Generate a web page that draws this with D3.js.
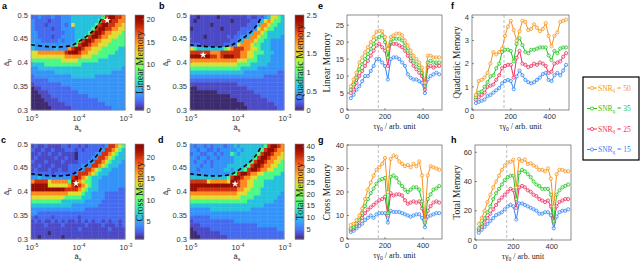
<!DOCTYPE html>
<html>
<head>
<meta charset="utf-8">
<script src="https://cdn.jsdelivr.net/npm/d3@7"></script>
<style>
  body { margin: 0; background: #fff; }
  svg { display: block; }
  text { font-family: "Liberation Sans", Arial, sans-serif; }
  .serif { font-family: "Liberation Serif", "Times New Roman", serif; }
</style>
</head>
<body>
<svg id="fig" width="640" height="263"></svg>
<script>
// ---- heatmap levels (0..9, see levelT), rows from a_p = 0.5 down to 0.3,
// columns from a_s = 1e-5 to 1e-3 (log)
const linearMap = [
  "2232223223334444444445899887",
  "3222212223334444444458998877",
  "3222122223236444444589988776",
  "3222221223333444445899887766",
  "3322222222333444458998776665",
  "3322221223333444589987766655",
  "3332222232333458998776665555",
  "4333333333334589987766655555",
  "4333333433378998776665555544",
  "6677777777899987766655555444",
  "6666666666777776665555544444",
  "5555555556666655555544444444",
  "4444555555555554444444444444",
  "3344444444444444444444444443",
  "3333333444444444444444443333",
  "2333333333334444444333333333",
  "2222233333333333333333333333",
  "1222222223333333333333333333",
  "0112222222223333333333333333",
  "0011122222222233333333333333",
  "0001112222222222233333333333",
  "0000111122222222222233333333",
  "0000011111222222222222333333",
  "0000001111112222222222223333"
];
const quadraticMap = [
  "1101111101111111121122346654",
  "1011111111110111112224676554",
  "1111110111111111122247765544",
  "0111111110111112222367655444",
  "1111111111111122234776544444",
  "1111011111121223347765544443",
  "1111111111112234777655443333",
  "2221111111222367776554443333",
  "6544444444567888776654443333",
  "8888887778888887766555444333",
  "9999998878999887766544443333",
  "7777777777777766655544443333",
  "6666666666666655554444433333",
  "5555555555555554444433333333",
  "4444444444444444333333333322",
  "3333333333333333333333222222",
  "2222222222222222222222222222",
  "1111111111111122222222222222",
  "0011111111111111122222222222",
  "0000000011111111111222222222",
  "0000000000001111111112222222",
  "0000000000000011111111122222",
  "0000000000000000111111111222",
  "0000000000000000011111111122"
];
const crossMap = [
  "1211211112212212122222388765",
  "2112112111222121222223887654",
  "1121121121111022222338876544",
  "1211111211211022223388765444",
  "2111211112111122233887654443",
  "1121112111122223338876544433",
  "1211121121122233887654443333",
  "2222221222222388876544433333",
  "3343333333338987654443333333",
  "7888867777759876554433333333",
  "9999966666678987654433333333",
  "9999999999888876544433333322",
  "7777777777766665443333222222",
  "6666666666555554443333222222",
  "5555555554444444333332222222",
  "4444444444443333333322222222",
  "3333333333333333222222222222",
  "3322222222222222222222222222",
  "2122221222222212222222222222",
  "1212112121211212121221212212",
  "1111211112111111211112111212",
  "1111111111111121111111121111",
  "1111101111111111111111111111",
  "1101111110111111111111111111"
];
const totalMap = [
  "3233232333233434444444589987",
  "3323322323333343444445899877",
  "2332233232335434444458998776",
  "3323323323333444444589987766",
  "3233232333333444445899877665",
  "3332332333344444458998776655",
  "3323333333443444589987766555",
  "3333333333334589987766555554",
  "4444444444458998776655555444",
  "8888867777769987766555444444",
  "9999999999999987766555444444",
  "9988888888888877665554444444",
  "7777777777777766655554444443",
  "6666666666666665555444444433",
  "5555555555555555544444444333",
  "4444444444444444444444333333",
  "3333334444444444443333333333",
  "3333333333333333333333333333",
  "2222223333333333333333333333",
  "1222222222222333333333333333",
  "1112222222222222222233333333",
  "0111112222222222222222222233",
  "0011111112222222222222222222",
  "0001111111122222222222222222"
];
// fraction of the colour range that each level stands for
const levelT = [0.0, 0.05, 0.10, 0.16, 0.235, 0.38, 0.59, 0.73, 0.865, 0.97];

// colour-bar ranges and ticks
const linearRange = [0, 21], linearTicks = [0, 5, 10, 15, 20];
const quadraticRange = [0, 2.5], quadraticTicks = [0, 0.5, 1, 1.5, 2, 2.5];
const crossRange = [1, 23], crossTicks = [5, 10, 15, 20];
const totalRange = [1, 41], totalTicks = [5, 10, 15, 20, 25, 30, 35, 40];

// boundary (dashed) and optimum markers
const boundaryAs = [1e-5, 1.95e-5, 3.7e-5, 7.2e-5, 1.29e-4, 2.3e-4, 3.4e-4];
const boundaryAp = [0.4375, 0.434, 0.4326, 0.436, 0.450, 0.471, 0.497];
const starLinear = [4.17e-4, 0.489];
const starQuadratic = [1.9e-5, 0.416];
const starCross = [9.1e-5, 0.417];
const starTotal = [9.1e-5, 0.416];

// ---- memory vs tau*gamma0
const tau = [20, 35, 50, 65, 80, 95, 110, 125, 140, 155, 170, 185, 200, 215, 230, 245,
             260, 275, 290, 305, 320, 335, 350, 365, 380, 395, 410, 425, 440, 455, 470, 485];
const tauOpt = 165;
const snrLabels = ["50", "35", "25", "15"];
const snrColors = ["#f7941d", "#1fc41f", "#ee2f5f", "#2f86f6"];

const linear50 = [7, 9, 11, 14, 15.5, 17, 18.5, 20, 21.5, 23, 23.3, 23.2, 21.5, 18, 21.5, 22, 22.5, 22.5, 22, 20.5, 19, 17.5, 16, 15, 14, 12.5, 8, 16, 16, 15.5, 15.5, 15.5];
const linear35 = [6, 7.5, 9.5, 12, 13.5, 15, 16.5, 18, 19.5, 21, 21.5, 22, 20, 15.5, 20, 21, 21, 21, 20.5, 19, 17.5, 16, 14.5, 13.5, 12.5, 11, 7, 14, 14.5, 14, 14, 14];
const linear25 = [5, 6, 8, 10, 11.5, 13, 14.5, 16, 17.5, 19, 19.5, 18.5, 17.5, 13, 19.5, 19.5, 19.5, 19, 18.5, 17.5, 16, 14.5, 13, 12, 11, 10, 6, 12.5, 13, 12.5, 13, 13];
const linear15 = [3.5, 4.5, 6, 7, 8.5, 10, 10, 11.5, 13, 15, 15, 14, 13, 9, 15, 15.5, 15.5, 15, 14, 13, 10.5, 9.5, 9, 9, 8.5, 8, 5, 9, 10, 10.5, 11, 10.5];

const quadratic50 = [0.65, 1.25, 1.3, 1.4, 1.6, 2.0, 2.5, 2.4, 2.5, 2.65, 3.2, 3.6, 3.85, 3.45, 3.0, 3.4, 3.85, 3.8, 3.45, 3.5, 3.7, 3.55, 3.4, 3.5, 3.75, 3.2, 2.75, 3.2, 3.35, 3.8, 3.85, 3.9];
const quadratic35 = [0.55, 0.75, 0.8, 1.0, 1.2, 1.45, 1.5, 1.8, 2.0, 2.5, 2.6, 2.6, 2.55, 2.1, 2.85, 3.1, 2.8, 2.5, 2.45, 2.6, 2.6, 2.65, 2.7, 2.7, 2.7, 2.35, 2.15, 2.55, 2.45, 2.65, 2.7, 2.7];
const quadratic25 = [0.45, 0.55, 0.65, 0.75, 1.0, 1.05, 1.1, 1.3, 1.5, 1.8, 1.9, 1.95, 1.95, 1.4, 2.25, 2.55, 2.0, 1.95, 1.85, 1.9, 2.0, 1.95, 2.05, 2.0, 1.9, 1.6, 1.65, 2.0, 2.05, 2.1, 2.3, 2.45];
const quadratic15 = [0.3, 0.35, 0.4, 0.45, 0.6, 0.65, 0.75, 0.85, 0.95, 1.15, 1.25, 1.3, 1.25, 0.9, 1.45, 1.7, 1.5, 1.3, 1.2, 1.15, 1.2, 1.3, 1.4, 1.55, 1.6, 1.3, 1.25, 1.5, 1.6, 1.5, 1.7, 1.95];

const cross50 = [6, 6.5, 8, 10, 13, 17, 21, 24, 27, 29.5, 30.5, 32, 34.5, 20, 34, 35.5, 35, 33, 32, 31, 31.5, 30.5, 32, 31, 33, 27, 8, 27, 31, 30.5, 30, 29.5];
const cross35 = [4.5, 5, 6.5, 8, 11, 14, 17, 19.5, 21.5, 23.5, 25, 25.5, 26, 11, 26.5, 27, 26, 24, 22.5, 21, 20, 21, 22, 22, 21, 16, 7, 17, 19, 21, 21.5, 22.5];
const cross25 = [4, 4.5, 5.5, 7, 9, 11, 12.5, 13.5, 14.5, 15.5, 16.5, 17, 18, 10, 19.5, 18.5, 19, 19, 18.5, 16.5, 15, 15.5, 16, 15.5, 16, 13, 7.5, 12, 14, 15.5, 16, 15.5];
const cross15 = [3, 3.5, 4.5, 5.5, 6.5, 8, 9, 10, 9, 10.5, 11, 11, 11, 7, 12, 11.5, 11.5, 11.5, 11, 10.5, 10, 9.5, 10, 10.5, 10.5, 9, 5, 9.5, 10, 10.5, 11, 11];

const total50 = [11, 15, 20, 26, 31, 36, 40, 44, 48, 51, 53, 53.5, 55, 36, 55.5, 54, 55, 52, 52.5, 51, 50, 48, 48, 47, 49, 42, 23, 45, 48, 48, 47, 47];
const total35 = [8, 11, 15, 19, 23, 28, 32, 35, 38, 41, 43, 44, 44, 28, 46, 48, 47, 45, 43, 40, 38, 37, 35, 35, 35, 31, 13, 31, 34, 36, 37, 38];
const total25 = [7, 9, 12, 15, 18, 21, 24, 27, 29, 31, 33, 35, 34, 22, 36, 37, 36, 34, 33, 31, 30, 28, 27, 26, 27, 23, 12, 23, 26, 27, 28, 28];
const total15 = [5, 7, 9, 11, 13, 15, 17, 18, 19, 21, 23, 24, 23, 14, 25, 25, 24, 23, 22, 21, 20, 18, 18, 19, 19, 17, 8, 16, 19, 20, 20, 21];

// ------------------------------------------------------------------
const svg = d3.select("#fig");
const axisColor = "#404040";
const turbo = t => d3.interpolateTurbo(0.03 + 0.97 * t);

function subText(g, x, y, base, sub, opts = {}) {
  const size = opts.size || 8;
  const t = g.append("text").attr("x", x).attr("y", y)
    .attr("font-size", size)
    .attr("text-anchor", opts.anchor || "middle")
    .attr("fill", opts.fill || "#222");
  if (opts.cls) t.attr("class", opts.cls);
  if (opts.rotate) t.attr("transform", `rotate(-90,${x},${y})`);
  t.append("tspan").text(base);
  t.append("tspan").attr("dy", 1.8).attr("font-size", size * 0.7).text(sub);
  if (opts.rest) t.append("tspan").attr("dy", -1.8).text(opts.rest);
  return t;
}

function heatmap(o) {
  const g = svg.append("g");
  const x = d3.scaleLog().domain([1e-5, 1e-3]).range([o.x0, o.x1]);
  const y = d3.scaleLinear().domain([0.3, 0.5]).range([o.y1, o.y0]);
  const color = d3.scaleSequential(turbo).domain(o.range);
  const nr = o.grid.length, nc = o.grid[0].length;
  const edgeX = j => x(Math.pow(10, -5 + j * 2 / nc));
  const edgeY = i => y(0.5 - i * 0.2 / nr);

  const cells = [];
  o.grid.forEach((row, i) => {
    for (let j = 0; j < nc; j++) {
      const lvl = +row[j];
      cells.push({ i, j, v: o.range[0] + levelT[lvl] * (o.range[1] - o.range[0]) });
    }
  });
  g.selectAll("rect.cell").data(cells).join("rect")
    .attr("class", "cell")
    .attr("x", d => edgeX(d.j))
    .attr("y", d => edgeY(d.i))
    .attr("width", d => edgeX(d.j + 1) - edgeX(d.j) + 0.4)
    .attr("height", d => edgeY(d.i + 1) - edgeY(d.i) + 0.4)
    .attr("fill", d => color(d.v));

  // dashed boundary
  const pts = boundaryAs.map((a, k) => [x(a), y(boundaryAp[k])]);
  g.append("path")
    .attr("d", d3.line().curve(d3.curveCatmullRom)(pts))
    .attr("fill", "none").attr("stroke", "#000")
    .attr("stroke-width", 1.6).attr("stroke-dasharray", "4,3");

  // optimum
  g.append("path")
    .attr("d", d3.symbol(d3.symbolStar, 16)())
    .attr("transform", `translate(${x(o.star[0])},${y(o.star[1])})`)
    .attr("fill", "#fff");

  // box + ticks
  g.append("rect").attr("x", o.x0).attr("y", o.y0)
    .attr("width", o.x1 - o.x0).attr("height", o.y1 - o.y0)
    .attr("fill", "none").attr("stroke", "#888").attr("stroke-width", 0.6);

  [0.3, 0.35, 0.4, 0.45, 0.5].forEach(v => {
    g.append("line").attr("x1", o.x0).attr("x2", o.x0 + 2)
      .attr("y1", y(v)).attr("y2", y(v)).attr("stroke", "#888").attr("stroke-width", 0.6);
    g.append("text").attr("x", o.x0 - 3).attr("y", y(v) + 2.5)
      .attr("text-anchor", "end").attr("font-size", 7.5).attr("fill", "#333")
      .text(v);
  });
  [1e-5, 1e-4, 1e-3].forEach(v => {
    g.append("line").attr("x1", x(v)).attr("x2", x(v))
      .attr("y1", o.y1).attr("y2", o.y1 - 2).attr("stroke", "#888").attr("stroke-width", 0.6);
    const t = g.append("text").attr("x", x(v) + 1).attr("y", o.y1 + 11)
      .attr("text-anchor", "middle").attr("font-size", 7.5).attr("fill", "#333");
    t.append("tspan").text("10");
    t.append("tspan").attr("dy", -3.2).attr("font-size", 5.2).text(Math.round(Math.log10(v)));
  });

  subText(g, (o.x0 + o.x1) / 2, o.y1 + 20, "â", "s", { size: 7.5 });
  subText(g, o.x0 - 22, (o.y0 + o.y1) / 2, "â", "p", { size: 7.5, rotate: true });

  // colour bar
  const cb = d3.scaleLinear().domain(o.range).range([o.y1, o.y0]);
  const steps = d3.range(0, 96);
  g.selectAll("rect.cb").data(steps).join("rect")
    .attr("class", "cb")
    .attr("x", o.cbx).attr("width", 9)
    .attr("y", s => o.y0 + (o.y1 - o.y0) * s / 96)
    .attr("height", (o.y1 - o.y0) / 96 + 0.5)
    .attr("fill", s => color(o.range[1] - (s + 0.5) / 96 * (o.range[1] - o.range[0])));
  g.append("rect").attr("x", o.cbx).attr("y", o.y0).attr("width", 9)
    .attr("height", o.y1 - o.y0).attr("fill", "none").attr("stroke", "#888").attr("stroke-width", 0.6);
  o.ticks.forEach(v => {
    g.append("line").attr("x1", o.cbx + 9).attr("x2", o.cbx + 7)
      .attr("y1", cb(v)).attr("y2", cb(v)).attr("stroke", "#888").attr("stroke-width", 0.6);
    g.append("text").attr("x", o.cbx + 11.5).attr("y", cb(v) + 2.7)
      .attr("font-size", 7.5).attr("fill", "#333").text(v);
  });
  const cy = (o.y0 + o.y1) / 2;
  g.append("text").attr("class", "serif")
    .attr("x", o.cbx + 4.5).attr("y", cy)
    .attr("transform", `rotate(-90,${o.cbx + 4.5},${cy})`)
    .attr("dy", 3.5).attr("text-anchor", "middle")
    .attr("font-size", 10).attr("fill", "#1a1a2a").text(o.label);

  svg.append("text").attr("x", o.lx).attr("y", o.ly)
    .attr("font-size", 9).attr("font-weight", "bold").attr("fill", "#000").text(o.letter);
}

function memoryPanel(o) {
  const g = svg.append("g");
  const x = d3.scaleLinear().domain([0, 500]).range([o.x0, o.x1]);
  const y = d3.scaleLinear().domain(o.yDomain).range([o.y1, o.y0]);

  g.append("line").attr("x1", x(tauOpt)).attr("x2", x(tauOpt))
    .attr("y1", o.y0).attr("y2", o.y1)
    .attr("stroke", "#c8c8c8").attr("stroke-width", 1.2).attr("stroke-dasharray", "3,2");

  const line = d3.line().x((d, i) => x(tau[i])).y(d => y(d));
  o.series.slice().reverse().forEach((s, k) => {
    const col = snrColors[o.series.length - 1 - k];
    g.append("path").attr("d", line(s)).attr("fill", "none")
      .attr("stroke", col).attr("stroke-width", 1);
    g.selectAll(null).data(s).join("circle")
      .attr("cx", (d, i) => x(tau[i])).attr("cy", d => y(d)).attr("r", 1.6)
      .attr("fill", "#fff").attr("fill-opacity", 0.6)
      .attr("stroke", col).attr("stroke-width", 0.8);
  });

  g.append("rect").attr("x", o.x0).attr("y", o.y0)
    .attr("width", o.x1 - o.x0).attr("height", o.y1 - o.y0)
    .attr("fill", "none").attr("stroke", axisColor).attr("stroke-width", 0.6);

  o.yTicks.forEach(v => {
    g.append("line").attr("x1", o.x0).attr("x2", o.x0 + 2)
      .attr("y1", y(v)).attr("y2", y(v)).attr("stroke", axisColor).attr("stroke-width", 0.6);
    g.append("text").attr("x", o.x0 - 3).attr("y", y(v) + 2.7)
      .attr("text-anchor", "end").attr("font-size", 7.5).attr("fill", "#333").text(v);
  });
  [0, 200, 400].forEach(v => {
    g.append("line").attr("x1", x(v)).attr("x2", x(v))
      .attr("y1", o.y1).attr("y2", o.y1 - 2).attr("stroke", axisColor).attr("stroke-width", 0.6);
    g.append("text").attr("x", x(v)).attr("y", o.y1 + 9)
      .attr("text-anchor", "middle").attr("font-size", 7.5).attr("fill", "#333").text(v);
  });

  subText(g, (o.x0 + o.x1) / 2, o.y1 + 19, "τγ", "0",
    { size: 8, cls: "serif", rest: " / arb. unit" });
  const cy = (o.y0 + o.y1) / 2;
  g.append("text").attr("class", "serif")
    .attr("x", o.ylx).attr("y", cy)
    .attr("transform", `rotate(-90,${o.ylx},${cy})`)
    .attr("text-anchor", "middle").attr("font-size", 9.5).attr("fill", "#222").text(o.label);

  svg.append("text").attr("x", o.lx).attr("y", o.ly)
    .attr("font-size", 9).attr("font-weight", "bold").attr("fill", "#000").text(o.letter);
}

heatmap({ grid: linearMap, range: linearRange, ticks: linearTicks, label: "Linear Memory",
  star: starLinear, x0: 31, x1: 125, y0: 15, y1: 110, cbx: 135, letter: "a", lx: 2, ly: 9 });
heatmap({ grid: quadraticMap, range: quadraticRange, ticks: quadraticTicks, label: "Quadratic Memory",
  star: starQuadratic, x0: 190, x1: 284, y0: 15, y1: 110, cbx: 295, letter: "b", lx: 159, ly: 9 });
heatmap({ grid: crossMap, range: crossRange, ticks: crossTicks, label: "Cross Memory",
  star: starCross, x0: 31, x1: 125, y0: 144, y1: 239, cbx: 135, letter: "c", lx: 1, ly: 143 });
heatmap({ grid: totalMap, range: totalRange, ticks: totalTicks, label: "Total Memory",
  star: starTotal, x0: 190, x1: 284, y0: 144, y1: 239, cbx: 295, letter: "d", lx: 158, ly: 143 });

memoryPanel({ series: [linear50, linear35, linear25, linear15], yDomain: [0, 28],
  yTicks: [0, 5, 10, 15, 20, 25], label: "Linear Memory",
  x0: 347, x1: 442, y0: 15, y1: 110, ylx: 330, letter: "e", lx: 318, ly: 9 });
memoryPanel({ series: [quadratic50, quadratic35, quadratic25, quadratic15], yDomain: [0, 4.1],
  yTicks: [0, 1, 2, 3, 4], label: "Quadratic Memory",
  x0: 472, x1: 569, y0: 15, y1: 110, ylx: 460, letter: "f", lx: 451, ly: 9 });
memoryPanel({ series: [cross50, cross35, cross25, cross15], yDomain: [0, 40],
  yTicks: [0, 10, 20, 30, 40], label: "Cross Memory",
  x0: 347, x1: 442, y0: 145, y1: 239, ylx: 330, letter: "g", lx: 318, ly: 143 });
memoryPanel({ series: [total50, total35, total25, total15], yDomain: [0, 65],
  yTicks: [0, 20, 40, 60], label: "Total Memory",
  x0: 475, x1: 571, y0: 145, y1: 240, ylx: 460, letter: "h", lx: 451, ly: 143 });

// legend
const lg = svg.append("g");
lg.append("rect").attr("x", 583).attr("y", 77).attr("width", 56).attr("height", 83)
  .attr("fill", "#fff").attr("stroke", "#000").attr("stroke-width", 1.2);
snrLabels.forEach((s, k) => {
  const ly = 88 + k * 20.5;
  lg.append("line").attr("x1", 587).attr("x2", 597).attr("y1", ly).attr("y2", ly)
    .attr("stroke", snrColors[k]).attr("stroke-width", 1);
  lg.append("circle").attr("cx", 592).attr("cy", ly).attr("r", 1.6)
    .attr("fill", "#fff").attr("stroke", snrColors[k]).attr("stroke-width", 0.8);
  subText(lg, 598, ly + 2.5, "SNR", "q", { size: 7.5, anchor: "start", cls: "serif",
    fill: snrColors[k], rest: " = " + s });
});
</script>
</body>
</html>
